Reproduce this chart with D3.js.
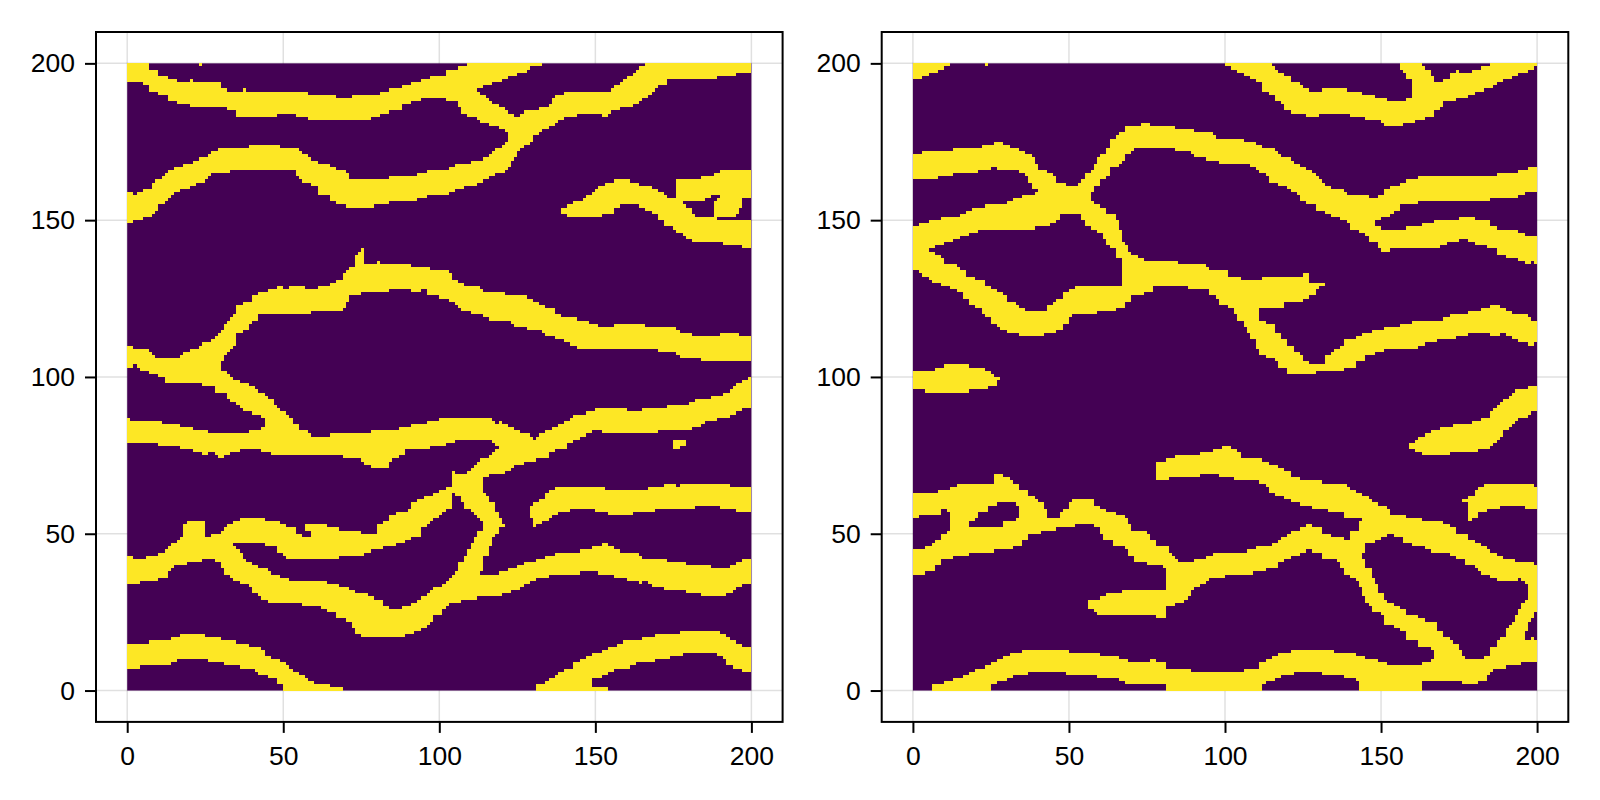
<!DOCTYPE html>
<html>
<head>
<meta charset="utf-8">
<script src="https://cdn.jsdelivr.net/npm/d3@7"></script>
<style>
  html, body { margin: 0; background: #fff; }
  text { font-family: "Liberation Sans", sans-serif; }
</style>
</head>
<body>
<svg id="chart" width="1600" height="800"></svg>
<script>
var xTicks = [0, 50, 100, 150, 200];
var yTicks = [0, 50, 100, 150, 200];
var fieldExtent = [0, 200];
var lowColor = "#440154";
var highColor = "#FDE725";

// Yellow cells. Each row is [x, yLow, yHigh] and holds until the next row's x.
var leftTop = [[0,194,200],[5,193,200],[7,191,198],[10,190,196],[13,188,195],[16,187,194],[20,186,194],[30,186,192],[32,185,191],[35,183,191],[48,184,191],[54,183,191],[58,182,190],[67,182,189],[72,182,190],[78,183,190],[81,184,191],[84,185,192],[88,187,193],[91,188,194],[94,189,195],[97,189,196],[102,188,198],[106,186,199],[107,184,199],[109,183,200],[112,182,191],[113,181,190],[115,181,189],[116,180,188],[117,180,187],[119,179,186],[121,178,185],[122,176,184],[124]];
var leftTopBranch = [[112,192,200],[114,193,200],[117,194,200],[120,195,200],[122,196,200],[125,197,200],[128,198,200],[129,199,200],[133]];
var leftSecond = [[0,149,159],[2,150,158],[3,150,159],[5,151,160],[8,152,162],[9,153,163],[10,155,163],[11,155,164],[12,156,165],[13,157,166],[14,158,166],[15,159,167],[17,160,167],[18,160,168],[20,161,168],[21,161,169],[22,162,169],[23,162,170],[25,163,170],[26,164,171],[27,165,172],[29,165,173],[33,166,173],[39,166,174],[49,166,173],[54,164,173],[55,163,172],[56,162,171],[58,162,170],[59,161,169],[61,158,168],[65,156,167],[67,155,166],[70,154,165],[71,154,163],[79,155,163],[84,156,164],[93,157,165],[96,158,166],[103,159,167],[105,160,168],[108,161,168],[110,161,169],[112,162,169],[114,163,170],[116,164,171],[117,164,172],[118,165,173],[120,165,174],[121,166,175],[122,167,178],[123,169,184],[124,170,183],[125,172,183],[126,173,184],[127,174,185],[129,175,185],[130,177,185],[132,178,186],[133,179,186],[135,180,187],[136,180,189],[137,181,190],[138,182,190],[140,183,191],[144,184,191],[152,183,191],[154,184,191],[155,185,192],[156,185,193],[158,186,194],[159,186,195],[160,186,196],[162,187,197],[163,187,198],[164,188,199],[165,189,199],[166,189,200],[167,190,200],[168,191,200],[169,192,200],[170,193,200],[173,195,200],[189,196,200],[195,197,200],[200]];
var leftIsland = [[139,152,154],[141,151,155],[143,151,156],[146,151,157],[147,151,158],[149,151,159],[150,151,160],[151,151,161],[152,152,161],[153,152,162],[156,154,163],[158,155,163],[161,155,162],[164,154,161],[166,153,161],[168,152,160],[170,150,159],[172,148,158],[173,148,157],[175,147,157],[176,146,163],[178,145,155],[179,144,154],[181,143,152],[182,143,151],[188,143,152],[189,143,150],[191,142,150],[197,141,150],[200]];
var leftIslandCap = [[178,156,163],[184,156,164],[185,157,164],[187,158,164],[188,158,165],[190,158,166],[200]];
var leftIslandHook = [[188,151,156],[189,151,157],[190,151,158],[195,152,158],[196,154,158],[197,157,158],[200]];
var leftMiddle = [[0,103,110],[2,104,109],[3,103,109],[4,102,109],[7,101,108],[8,101,107],[9,101,106],[10,100,106],[12,98,106],[17,98,107],[18,98,108],[20,98,109],[23,98,110],[24,97,111],[27,97,112],[28,95,113],[29,95,114],[30,105,115],[31,107,117],[32,108,118],[33,109,119],[34,110,120],[35,114,123],[37,115,124],[39,117,124],[40,118,126],[42,120,127],[45,120,128],[48,120,129],[50,120,128],[52,120,129],[57,120,128],[59,121,128],[61,121,129],[65,121,130],[67,121,131],[69,122,133],[70,124,134],[71,126,135],[73,126,139],[74,126,140],[75,127,141],[76,127,136],[80,127,137],[81,127,136],[84,128,136],[91,127,135],[94,128,135],[96,126,135],[97,126,134],[100,125,134],[103,124,133],[104,124,131],[105,123,131],[106,122,130],[107,121,130],[108,121,129],[110,120,129],[113,120,128],[114,119,127],[116,118,127],[121,118,126],[123,117,126],[124,116,126],[128,115,125],[130,115,124],[132,115,123],[133,114,123],[134,113,122],[137,112,120],[139,112,119],[140,111,119],[142,110,119],[144,109,118],[148,109,117],[151,109,116],[156,109,117],[166,109,116],[170,108,116],[176,107,115],[177,106,114],[181,106,113],[184,105,113],[190,105,114],[196,105,113],[200]];
var leftDrop = [[29,95,102],[32,93,101],[33,92,100],[34,92,99],[35,91,99],[36,90,98],[37,89,98],[39,89,97],[40,88,97],[41,88,96],[42,88,95],[43,87,95],[44,87,94],[45]];
var leftLong = [[0,79,87],[1,79,86],[10,78,86],[11,78,85],[17,77,84],[21,76,83],[24,75,83],[26,76,82],[28,75,82],[29,74,82],[31,75,82],[33,76,82],[36,77,82],[39,77,83],[43,76,84],[44,76,94],[45,76,93],[46,75,93],[47,75,91],[48,75,90],[49,75,89],[51,75,88],[52,75,87],[53,75,85],[55,75,83],[58,75,82],[59,75,81],[65,75,82],[69,74,82],[75,73,82],[76,72,82],[78,71,83],[84,73,83],[85,74,83],[87,75,84],[89,77,84],[91,77,85],[96,77,86],[97,78,86],[100,78,87],[102,79,87],[105,80,87],[117,79,86],[118,78,85],[119,69,86],[120,69,85],[121,70,85],[122,70,84],[123,71,84],[124,72,83],[126,72,82],[127,73,82],[129,73,81],[130,73,80],[131,74,81],[132,74,82],[134,74,83],[135,76,83],[136,76,84],[137,77,84],[138,77,85],[140,77,86],[141,79,86],[142,79,87],[143,80,88],[145,81,88],[147,82,89],[149,83,89],[150,83,90],[152,82,90],[160,82,89],[165,82,90],[170,83,90],[173,83,91],[180,83,92],[181,84,92],[182,84,93],[184,85,93],[185,86,93],[187,86,94],[189,87,94],[191,87,95],[193,88,96],[194,88,97],[195,89,98],[197,90,99],[199,90,100],[200]];
var leftCross = [[104,63,70],[105,62,69],[107,60,69],[108,58,69],[110,57,69],[111,56,69],[112,55,69],[113,54,69],[114]];
var leftCrossTop = [[109,66,70],[110,66,71],[111,66,72],[112,66,73],[113,66,74],[114,68,74],[116,69,75],[117,69,76],[118,69,77],[119]];
var leftCrossLow = [[106,37,41],[108,37,43],[109,37,45],[110,37,47],[111,37,49],[112,37,51],[113,38,51],[114,43,63],[115,43,62],[116,46,60],[117,49,60],[118,50,57],[119,52,55],[120,52,53],[121]];
var leftSpeck = [[175,77,80],[177,78,80],[179]];
var leftPatch = [[129,55,59],[130,52,60],[131,53,60],[132,53,61],[133,54,61],[134,54,63],[135,55,64],[136,56,64],[137,56,65],[138,57,65],[142,58,65],[150,57,65],[153,57,64],[154,56,64],[162,57,64],[167,57,65],[169,58,65],[172,58,66],[176,58,65],[177,58,66],[182,59,66],[190,58,66],[193,58,65],[195,57,65],[200]];
var leftForkA = [[0,34,43],[2,34,42],[4,35,42],[6,35,43],[10,36,44],[12,36,45],[13,38,46],[14,39,47],[15,40,47],[16,40,48],[17,40,49],[18,40,53],[19,41,54],[24,42,54],[25,42,49],[27,42,50],[28,41,50],[30,39,51],[31,37,52],[32,37,53],[33,36,53],[34]];
var leftForkUpper = [[34,47,54],[36,47,55],[44,46,54],[48,44,54],[49,44,53],[50,43,53],[51,42,52],[54,42,50],[56,42,49],[59,42,53],[64,42,52],[68,43,51],[75,43,50],[76,44,50],[78,45,50],[80,45,53],[82,46,54],[84,46,56],[86,47,57],[89,48,57],[90,48,58],[91,49,60],[93,49,61],[94,52,61],[95,52,62],[96,53,62],[97,54,62],[98,55,63],[100,56,64],[101,57,64],[102,58,65],[104]];
var leftForkTab = [[57,51,53],[59]];
var leftForkLower = [[34,35,46],[35,35,45],[36,34,44],[37,34,42],[38,34,41],[39,33,41],[40,31,40],[42,30,39],[43,29,39],[45,28,38],[46,28,37],[49,28,36],[52,28,35],[56,27,35],[62,26,35],[64,25,34],[67,23,34],[68,23,33],[70,22,33],[71,22,32],[72,20,32],[73,18,31],[75,17,31],[77,17,30],[79,17,29],[82,17,27],[84,17,26],[88,17,27],[89,18,27],[91,18,28],[92,19,28],[93,19,29],[94,20,30],[96,21,31],[97,22,32],[98,24,33],[101,26,34],[102,27,35],[103,28,36],[104,28,37],[105,28,38],[107,29,38],[112,30,37],[119,30,38],[120,31,38],[122,31,39],[123,32,39],[125,32,40],[126,33,40],[127,34,41],[129,35,41],[131,36,42],[134,36,43],[135,37,43],[137,37,44],[145,38,45],[149,38,46],[151,37,46],[152,37,47],[154,37,46],[156,36,45],[158,36,44],[160,35,44],[164,34,43],[165,35,42],[167,34,42],[168,33,42],[172,32,42],[173,32,41],[179,31,40],[184,30,40],[187,30,39],[192,31,39],[193,31,40],[194,32,40],[195,33,41],[197,34,42],[200]];
var leftBottom = [[0,7,15],[4,8,15],[7,8,16],[14,9,17],[16,10,17],[17,10,18],[25,10,17],[26,9,17],[30,9,16],[31,8,16],[35,8,15],[36,7,15],[39,7,14],[41,6,14],[42,5,14],[43,5,13],[44,5,11],[45,4,11],[46,4,10],[48,2,10],[49,2,9],[50,0,9],[51,0,8],[52,0,7],[53,0,6],[55,0,5],[57,0,4],[58,0,3],[60,0,2],[65,0,1],[69]];
var leftBottomRight = [[131,0,2],[134,0,3],[135,0,4],[137,0,5],[138,0,6],[140,0,7],[143,0,9],[145,0,10],[147,0,11],[149,4,12],[152,5,13],[154,6,14],[156,7,14],[157,7,15],[159,7,16],[161,8,16],[163,9,16],[165,9,17],[169,10,18],[174,11,18],[177,11,19],[178,12,19],[189,11,19],[190,11,18],[191,10,18],[192,8,17],[193,8,16],[194,7,16],[195,7,15],[197,6,14],[200]];
var leftBottomRow = [[149,0,1],[154]];
var leftDots = [[23,199,200],[24]];
var leftDots2 = [[20,194,195],[21]];
var leftDots3 = [[37,191,192],[38]];

var rightCorner = [[0,195,200],[3,196,200],[5,197,200],[8,198,200],[10,199,200],[12]];
var rightDot = [[23,199,200],[24]];
var rightUpper = [[0,163,171],[3,163,172],[8,164,172],[13,165,173],[21,166,173],[22,166,174],[25,167,174],[26,167,175],[27,166,175],[29,166,174],[31,166,173],[34,165,172],[36,164,171],[37,162,171],[38,160,170],[39,160,168],[40,158,166],[43,158,165],[45,158,164],[46,158,162],[49]];
var rightWedgeTop = [[0,134,148],[2,133,149],[3,132,149],[5,141,150],[7,142,150],[9,142,151],[10,143,151],[13,144,151],[15,145,152],[17,145,153],[18,146,153],[19,146,154],[21,147,154],[23,147,155],[30,147,156],[32,147,157],[35,147,158],[39,148,159],[44,149,160],[46,150,160],[47,152,162],[49,152,161],[53,152,162],[54,150,163],[55,148,165],[57]];
var rightWedgeLow = [[5,131,140],[6,130,140],[7,130,139],[9,129,138],[10,129,136],[12,128,136],[14,127,135],[15,127,134],[16,125,134],[17,125,132],[18,123,132],[20,122,131],[22,120,131],[23,119,129],[25,117,128],[27,116,127],[28,115,127],[29,115,126],[30,114,124],[33,114,123],[34,113,122],[36,113,121],[42,114,121],[43,114,123],[45,114,124],[46,115,125],[48,117,127],[50,119,128],[51,120,128],[52,120,129],[59,121,129],[65,122,129],[67]];
var rightCrossDown = [[57,147,156],[58,147,155],[59,146,155],[60,146,154],[61,144,154],[62,142,152],[63,141,152],[65,138,150],[66,138,147],[67,122,143],[68,124,142],[69,124,140],[70,126,139],[72,126,138],[74,127,137],[77,129,137],[85,129,136],[88,128,136],[94,128,135],[95,126,134],[97,125,134],[98,123,134],[101,122,132],[105,122,131],[112,122,132],[119,124,132],[125,125,133],[127,126,130],[129,128,130],[130,129,130],[132]];
var rightCrossUp = [[57,159,166],[58,161,168],[59,161,170],[60,163,171],[62,164,173],[63,167,176],[65,167,177],[66,168,178],[67,169,178],[68,171,180],[70,172,180],[71,173,180],[73,173,181],[76,173,180],[84,172,179],[89,171,179],[90,170,178],[94,169,178],[96,169,177],[97,169,176],[98,168,176],[106,168,175],[108,167,175],[110,166,174],[111,165,174],[112,165,173],[113,164,173],[114,162,173],[116,162,172],[117,161,171],[118,161,170],[120,160,170],[121,159,169],[122,159,168],[123,158,168],[124,156,167],[126,155,166],[128,155,165],[129,153,164],[130,153,163],[131,153,162],[132,152,161],[134,151,160],[137,150,160],[138,150,159],[139,149,158],[140,147,158],[143,146,158],[145,145,158],[146,143,157],[148,150,157],[149,150,158],[150,151,158],[151,151,160],[153,152,161],[154,153,161],[156,155,162],[158,155,163],[162,156,164],[185,157,164],[187,157,165],[194,158,166],[196,159,166],[197,159,167],[200]];
var rightSplitLow = [[148,143,148],[149,141,148],[150,140,147],[153,141,147],[158,141,148],[163,141,149],[167,141,150],[169,142,150],[171,143,150],[175,144,151],[178,143,151],[180,142,150],[184,141,150],[185,141,148],[187,139,147],[190,138,147],[194,137,146],[196,136,145],[198,137,145],[199,136,145],[200]];
var rightDipRise = [[103,120,124],[104,118,124],[106,116,122],[107,114,122],[108,112,122],[110,109,122],[111,107,118],[113,106,117],[116,105,114],[117,103,114],[118,103,112],[120,101,110],[122,101,108],[124,101,107],[125,101,105],[127,101,104],[129,102,104],[132,102,107],[134,102,108],[135,102,109],[137,102,110],[138,103,112],[142,105,113],[144,105,114],[145,107,114],[147,107,115],[148,108,115],[151,109,116],[156,109,117],[160,109,118],[162,110,118],[164,111,118],[168,112,118],[170,112,119],[172,112,120],[174,113,120],[178,114,121],[182,114,122],[185,113,123],[188,114,122],[190,113,121],[192,112,120],[194,111,120],[197,110,119],[198,110,118],[199,111,118],[200]];
var rightTopArc = [[100,199,200],[102,198,200],[104,197,200],[106,196,200],[108,195,200],[110,194,200],[112,191,200],[114,190,200],[115,190,199],[116,188,198],[117,188,197],[118,187,197],[119,185,196],[121,184,194],[124,184,193],[125,184,192],[126,183,192],[127,183,191],[130,184,191],[131,184,192],[135,184,192],[139,184,191],[140,183,191],[144,183,190],[145,182,190],[148,182,189],[150,181,189],[151,180,189],[152,180,188],[157,181,188],[158,181,189],[160,181,200],[161,182,200],[163,182,199],[164,183,198],[166,183,196],[167,185,194],[169,186,194],[170,188,195],[172,188,197],[174,189,198],[175,189,197],[178,190,197],[179,190,198],[180,191,198],[182,191,199],[183,192,199],[185,192,200],[186,193,200],[187,194,200],[189,195,200],[192,196,200],[194,197,200],[197,198,200],[199,199,200],[200]];
var rightTopSpur = [[156,198,200],[157,197,200],[158,195,200],[160]];
var rightBlob = [[0,96,102],[4,95,102],[7,95,103],[10,95,104],[18,96,103],[23,96,102],[24,97,102],[25,97,101],[26,97,100],[27,99,100],[28]];
var rightEdgeBlob = [[159,77,79],[161,76,80],[162,76,81],[163,75,81],[164,75,82],[166,75,83],[169,75,84],[172,76,84],[173,76,85],[179,76,86],[181,77,86],[182,77,87],[185,78,89],[186,79,90],[187,80,91],[188,81,92],[189,83,93],[191,84,94],[192,85,95],[193,86,96],[194,87,96],[197,88,97],[198,89,97],[200]];
var rightEdgePatch = [[176,60,61],[178,54,62],[179,55,62],[180,55,64],[181,57,65],[183,57,66],[184,58,66],[188,59,66],[196,58,66],[199,58,65],[200]];
var rightMidRun = [[78,67,73],[81,67,74],[82,68,74],[84,68,75],[92,69,76],[96,69,77],[98,68,77],[99,68,78],[102,68,77],[103,67,77],[104,67,76],[105,67,74],[111,66,74],[112,66,73],[113,65,73],[114,63,72],[116,62,72],[117,62,71],[119,61,70],[121,60,68],[124,59,67],[128,58,67],[131,58,66],[133,57,66],[138,55,66],[139,55,65],[140,55,64],[142,55,63],[144,44,62],[145,47,62],[146,47,61],[147,47,60],[148,48,60],[149,48,59],[150,49,59],[152,50,58],[153,50,56],[154,49,56],[157,47,56],[158,47,55],[160,46,55],[163,46,54],[164,45,54],[166,44,54],[170,44,53],[172,43,52],[174,42,50],[177,40,50],[178,40,48],[180,39,47],[181,38,47],[182,37,46],[184,37,45],[185,36,44],[187,35,43],[189,35,42],[193,35,41],[194,36,41],[195,35,41],[196,34,41],[197,22,41],[198,23,41],[199,25,40],[200]];
var rightLoopLow = [[0,37,45],[4,38,46],[6,38,47],[7,40,48],[9,42,50],[11,42,51],[12,42,65],[13,43,65],[14,43,66],[18,44,52],[26,45,52],[29,45,54],[32,46,54],[33,46,55],[34,46,64],[35,48,64],[37,50,62],[39,50,61],[40,50,60],[41,51,60],[42,51,58],[43,51,55],[46,52,55],[47,52,57],[48,52,58],[50,52,60],[51,52,61],[52,53,61],[58,52,59],[60,50,58],[61,48,58],[62,48,57],[64,46,57],[65,46,56],[68,45,55],[69,43,53],[70,43,51],[71,41,51],[75,40,50],[76,40,48],[78,40,46],[80,39,46],[81,27,46],[82,27,44],[83,27,43],[84,28,42],[85,28,41],[87,29,41],[88,30,41],[89,32,41],[90,33,42],[92,34,42],[94,35,43],[95,36,43],[96,36,44],[100,37,44],[107,37,45],[109,38,45],[110,38,46],[113,39,46],[115,39,47],[117,41,48],[118,41,49],[119,42,49],[120,42,50],[121,43,51],[124,44,52],[126,45,53],[128,44,52],[131,42,50],[134,42,49],[136,41,49],[137,39,49],[138,37,48],[140,36,51],[142,35,51],[143,33,54],[144]];
var rightLoopTop = [[0,55,63],[2,56,63],[8,56,64],[9,58,64],[11,57,64],[12]];
var rightLoopArch = [[18,54,66],[20,55,66],[21,57,66],[24,59,66],[26,59,69],[27,60,69],[29,60,68],[31,60,67],[32,60,66],[33,59,66],[34]];
var rightTailBlob = [[56,26,29],[58,25,29],[59,24,29],[60,24,30],[62,24,31],[67,24,32],[78,23,32],[81]];
var rightBranch = [[143,33,42],[144,30,42],[145,28,39],[146,27,39],[147,25,36],[148,25,34],[149,25,31],[150,24,31],[151,21,29],[152,21,28],[154,20,27],[156,19,26],[158,16,24],[162,14,23],[164,14,22],[166,13,22],[167,10,22],[168,10,19],[170,10,17],[172,10,16],[173,10,15],[175,10,13],[176,10,11],[177]];
var rightBottom = [[6,0,2],[10,0,3],[13,0,4],[16,0,5],[18,0,6],[20,0,7],[23,0,8],[25,2,9],[27,3,10],[29,3,11],[30,4,11],[31,4,12],[32,5,12],[35,5,13],[37,6,13],[49,5,13],[50,5,12],[59,4,12],[60,4,11],[66,3,10],[68,2,10],[69,2,9],[76,2,10],[78,2,9],[81,0,7],[89,0,6],[106,0,7],[111,0,9],[112,2,9],[113,3,10],[115,3,11],[116,4,11],[117,4,12],[118,5,12],[121,5,13],[122,6,13],[131,5,13],[135,5,12],[138,4,12],[142,3,11],[143,0,11],[145,0,10],[149,0,9],[152,0,8],[163,3,9],[166,3,10],[176,2,10],[181,3,10],[183,3,11],[184,5,11],[185,6,14],[186,7,14],[187,7,16],[188,7,17],[190,8,20],[191,8,21],[192,8,22],[193,8,24],[194,8,26],[195,9,28],[196,9,16],[198,9,17],[199,9,16],[200]];
var rightBranchRise = [[196,19,29],[197]];

var leftField = [leftTop, leftTopBranch, leftSecond, leftIsland, leftIslandCap, leftIslandHook, leftMiddle, leftDrop, leftLong, leftCross, leftCrossTop, leftCrossLow, leftSpeck, leftPatch, leftForkA, leftForkUpper, leftForkTab, leftForkLower, leftBottom, leftBottomRight, leftBottomRow, leftDots, leftDots2, leftDots3];
var rightField = [rightCorner, rightDot, rightUpper, rightWedgeTop, rightWedgeLow, rightCrossDown, rightCrossUp, rightSplitLow, rightDipRise, rightTopArc, rightTopSpur, rightBlob, rightEdgeBlob, rightEdgePatch, rightMidRun, rightLoopLow, rightLoopTop, rightLoopArch, rightTailBlob, rightBranch, rightBottom, rightBranchRise];

var svg = d3.select("#chart");

function drawPanel(field, left, right) {
  var x = d3.scaleLinear().domain([-10, 210]).range([left, right]);
  var y = d3.scaleLinear().domain([-10, 210]).range([721.9, 32]);
  var g = svg.append("g");

  // Grid sits under the heatmap
  g.selectAll(".gx").data(xTicks).enter().append("line")
    .attr("x1", d => x(d)).attr("x2", d => x(d))
    .attr("y1", y.range()[0]).attr("y2", y.range()[1])
    .attr("stroke", "rgba(0,0,0,0.12)").attr("stroke-width", 1.5);
  g.selectAll(".gy").data(yTicks).enter().append("line")
    .attr("y1", d => y(d)).attr("y2", d => y(d))
    .attr("x1", left).attr("x2", right)
    .attr("stroke", "rgba(0,0,0,0.12)").attr("stroke-width", 1.5);

  g.append("rect")
    .attr("x", x(fieldExtent[0])).attr("width", x(fieldExtent[1]) - x(fieldExtent[0]))
    .attr("y", y(fieldExtent[1])).attr("height", y(fieldExtent[0]) - y(fieldExtent[1]))
    .attr("fill", lowColor);

  // Each channel's rows become one rectangle per step
  var steps = field.flatMap(channel => d3.pairs(channel));
  g.selectAll(".cell").data(steps).enter().append("rect")
    .attr("x", d => x(d[0][0]))
    .attr("width", d => x(d[1][0]) - x(d[0][0]))
    .attr("y", d => y(d[0][2]))
    .attr("height", d => y(d[0][1]) - y(d[0][2]))
    .attr("fill", highColor)
    .attr("shape-rendering", "crispEdges");

  var xAxis = d3.axisBottom(x).tickValues(xTicks).tickSize(11).tickPadding(13).tickSizeOuter(0);
  var yAxis = d3.axisLeft(y).tickValues(yTicks).tickSize(11).tickPadding(10).tickSizeOuter(0);
  g.append("g").attr("transform", "translate(0," + y.range()[0] + ")").call(xAxis);
  g.append("g").attr("transform", "translate(" + left + ",0)").call(yAxis);
  g.selectAll(".tick line").attr("stroke", "#000").attr("stroke-width", 2);
  g.selectAll(".tick text").attr("fill", "#000").style("font-size", "26.5px").style("font-family", "'Liberation Sans', sans-serif");
  g.selectAll(".domain").remove();

  g.append("rect")
    .attr("x", left).attr("y", y.range()[1])
    .attr("width", right - left).attr("height", y.range()[0] - y.range()[1])
    .attr("fill", "none").attr("stroke", "#000").attr("stroke-width", 2);
}

drawPanel(leftField, 96, 782.6);
drawPanel(rightField, 881.7, 1568.3);
</script>
</body>
</html>
